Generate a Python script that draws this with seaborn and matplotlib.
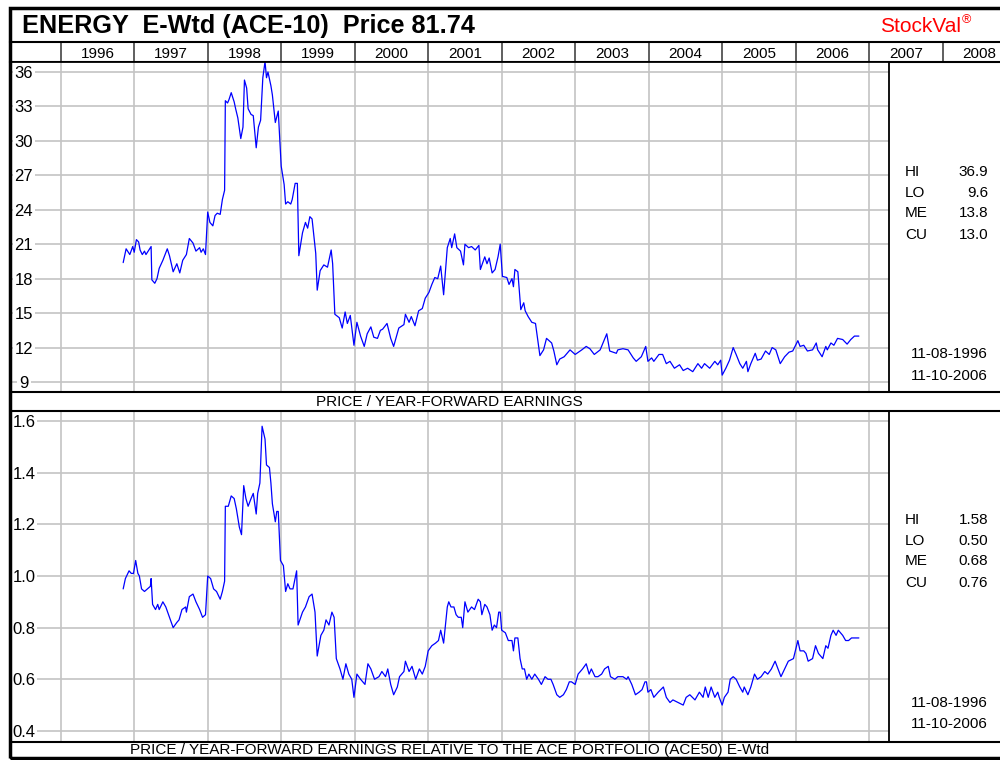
import matplotlib
matplotlib.use("Agg")
import matplotlib.pyplot as plt
import seaborn as sns
import pandas as pd
from matplotlib.patches import Rectangle
from matplotlib.lines import Line2D

# price / year-forward earnings
pe_year = [
    1996.85, 1996.89, 1996.94, 1996.98, 1997.00, 1997.03, 1997.06, 1997.08, 1997.11, 1997.14,
    1997.16, 1997.20, 1997.23, 1997.24, 1997.28, 1997.31, 1997.34, 1997.39, 1997.45, 1997.48,
    1997.53, 1997.58, 1997.62, 1997.66, 1997.71, 1997.75, 1997.80, 1997.84, 1997.89, 1997.91,
    1997.94, 1997.97, 1998.00, 1998.03, 1998.07, 1998.10, 1998.13, 1998.17, 1998.20, 1998.23,
    1998.24, 1998.27, 1998.29, 1998.32, 1998.36, 1998.38, 1998.41, 1998.45, 1998.48, 1998.50,
    1998.53, 1998.55, 1998.59, 1998.62, 1998.66, 1998.69, 1998.72, 1998.75, 1998.78, 1998.80,
    1998.82, 1998.86, 1998.88, 1998.92, 1998.96, 1999.00, 1999.04, 1999.06, 1999.09, 1999.13,
    1999.15, 1999.19, 1999.22, 1999.24, 1999.29, 1999.33, 1999.36, 1999.39, 1999.42, 1999.47,
    1999.49, 1999.53, 1999.58, 1999.63, 1999.68, 1999.70, 1999.73, 1999.79, 1999.83, 1999.87,
    1999.90, 1999.94, 1999.99, 2000.03, 2000.08, 2000.13, 2000.17, 2000.22, 2000.26, 2000.31,
    2000.35, 2000.38, 2000.44, 2000.49, 2000.53, 2000.60, 2000.67, 2000.69, 2000.74, 2000.77,
    2000.82, 2000.87, 2000.92, 2000.96, 2001.01, 2001.05, 2001.09, 2001.13, 2001.17, 2001.21,
    2001.26, 2001.30, 2001.32, 2001.36, 2001.39, 2001.44, 2001.48, 2001.50, 2001.55, 2001.59,
    2001.64, 2001.69, 2001.71, 2001.77, 2001.80, 2001.83, 2001.87, 2001.91, 2001.95, 2001.98,
    2002.01, 2002.07, 2002.10, 2002.14, 2002.16, 2002.18, 2002.22, 2002.26, 2002.30, 2002.32,
    2002.36, 2002.41, 2002.46, 2002.52, 2002.57, 2002.61, 2002.68, 2002.71, 2002.75, 2002.79,
    2002.85, 2002.93, 2003.00, 2003.09, 2003.15, 2003.20, 2003.26, 2003.34, 2003.43, 2003.47,
    2003.56, 2003.58, 2003.65, 2003.72, 2003.79, 2003.83, 2003.90, 2003.96, 2003.99, 2004.04,
    2004.07, 2004.14, 2004.19, 2004.24, 2004.29, 2004.35, 2004.42, 2004.47, 2004.53, 2004.60,
    2004.67, 2004.72, 2004.76, 2004.83, 2004.90, 2004.94, 2004.98, 2005.00, 2005.05, 2005.10,
    2005.15, 2005.19, 2005.24, 2005.28, 2005.33, 2005.35, 2005.39, 2005.45, 2005.48, 2005.53,
    2005.59, 2005.64, 2005.68, 2005.73, 2005.79, 2005.85, 2005.91, 2005.96, 2006.03, 2006.06,
    2006.11, 2006.16, 2006.23, 2006.28, 2006.30, 2006.36, 2006.41, 2006.43, 2006.48, 2006.52,
    2006.57, 2006.64, 2006.70, 2006.75, 2006.80, 2006.86,
]
pe_value = [
    19.4, 20.6, 20.1, 20.8, 20.3, 21.4, 21.2, 20.5, 20.1, 20.4,
    20.1, 20.5, 20.8, 17.9, 17.6, 18.0, 18.9, 19.6, 20.6, 20.0,
    18.6, 19.3, 18.5, 19.6, 20.1, 21.5, 21.1, 20.4, 20.7, 20.3,
    20.6, 20.1, 23.8, 22.9, 22.6, 23.5, 23.7, 23.6, 24.9, 25.7,
    33.5, 33.3, 33.6, 34.2, 33.4, 32.8, 32.0, 30.2, 31.2, 35.3,
    34.6, 32.8, 32.3, 32.2, 29.4, 31.2, 31.8, 35.5, 36.9, 35.5,
    36.0, 34.8, 34.0, 31.6, 32.6, 27.8, 26.2, 24.5, 24.7, 24.5,
    24.9, 26.3, 26.3, 20.0, 22.0, 22.9, 22.4, 23.4, 23.2, 20.2,
    17.0, 18.7, 19.2, 19.0, 20.5, 19.3, 14.9, 14.6, 13.7, 15.1,
    14.1, 14.8, 12.2, 14.2, 13.0, 12.1, 13.2, 13.8, 12.9, 12.8,
    13.5, 13.6, 14.1, 12.8, 12.1, 13.7, 14.0, 14.9, 14.2, 14.7,
    13.9, 15.2, 15.4, 16.3, 16.8, 17.5, 18.1, 18.0, 19.1, 16.6,
    20.7, 21.5, 20.7, 21.9, 20.7, 20.4, 19.2, 21.0, 20.7, 20.8,
    20.5, 20.9, 18.8, 19.9, 19.3, 19.8, 18.5, 18.8, 19.9, 21.0,
    18.2, 18.1, 17.5, 18.0, 17.3, 18.8, 18.6, 15.3, 15.9, 15.2,
    14.7, 14.2, 14.1, 11.3, 11.8, 12.8, 12.4, 11.7, 10.5, 11.0,
    11.2, 11.8, 11.4, 11.8, 12.1, 11.9, 11.4, 11.8, 13.2, 11.7,
    11.5, 11.8, 11.9, 11.8, 11.1, 10.8, 11.2, 12.1, 10.8, 11.1,
    10.8, 11.4, 11.4, 10.6, 10.8, 10.2, 10.5, 10.0, 10.2, 9.9,
    10.6, 10.2, 10.6, 10.2, 10.8, 10.5, 10.9, 9.6, 10.2, 10.9,
    12.0, 11.4, 10.6, 10.2, 10.8, 9.9, 10.6, 11.5, 10.9, 11.0,
    11.7, 11.4, 12.0, 11.8, 10.6, 11.2, 11.6, 11.7, 12.6, 12.1,
    12.2, 11.7, 11.8, 12.4, 11.8, 11.2, 12.1, 11.8, 12.4, 12.2,
    12.8, 12.7, 12.3, 12.7, 13.0, 13.0,
]

# relative to the ACE portfolio
rel_year = [
    1996.85, 1996.88, 1996.93, 1996.96, 1996.99, 1997.02, 1997.05, 1997.07, 1997.10, 1997.14,
    1997.18, 1997.22, 1997.23, 1997.25, 1997.29, 1997.32, 1997.34, 1997.39, 1997.43, 1997.48,
    1997.53, 1997.58, 1997.61, 1997.65, 1997.70, 1997.71, 1997.75, 1997.80, 1997.84, 1997.89,
    1997.93, 1997.97, 1998.00, 1998.04, 1998.08, 1998.12, 1998.17, 1998.20, 1998.23, 1998.24,
    1998.28, 1998.32, 1998.36, 1998.39, 1998.43, 1998.46, 1998.49, 1998.52, 1998.55, 1998.59,
    1998.62, 1998.66, 1998.68, 1998.71, 1998.74, 1998.78, 1998.80, 1998.84, 1998.86, 1998.88,
    1998.92, 1998.94, 1998.96, 1998.99, 1999.03, 1999.06, 1999.09, 1999.12, 1999.16, 1999.21,
    1999.23, 1999.29, 1999.33, 1999.38, 1999.42, 1999.46, 1999.49, 1999.54, 1999.58, 1999.61,
    1999.65, 1999.69, 1999.72, 1999.75, 1999.80, 1999.84, 1999.88, 1999.92, 1999.96, 1999.99,
    2000.03, 2000.08, 2000.14, 2000.18, 2000.22, 2000.27, 2000.33, 2000.37, 2000.42, 2000.45,
    2000.49, 2000.53, 2000.58, 2000.61, 2000.67, 2000.69, 2000.74, 2000.78, 2000.83, 2000.88,
    2000.92, 2000.96, 2001.00, 2001.05, 2001.10, 2001.14, 2001.17, 2001.21, 2001.26, 2001.28,
    2001.31, 2001.35, 2001.38, 2001.41, 2001.45, 2001.47, 2001.50, 2001.54, 2001.59, 2001.63,
    2001.68, 2001.71, 2001.73, 2001.77, 2001.80, 2001.84, 2001.87, 2001.90, 2001.93, 2001.96,
    2001.98, 2002.00, 2002.05, 2002.09, 2002.14, 2002.16, 2002.18, 2002.22, 2002.25, 2002.28,
    2002.31, 2002.34, 2002.37, 2002.41, 2002.45, 2002.50, 2002.54, 2002.59, 2002.63, 2002.67,
    2002.70, 2002.75, 2002.79, 2002.84, 2002.88, 2002.92, 2002.95, 2003.00, 2003.04, 2003.10,
    2003.15, 2003.19, 2003.22, 2003.27, 2003.31, 2003.36, 2003.40, 2003.45, 2003.48, 2003.54,
    2003.58, 2003.65, 2003.70, 2003.72, 2003.77, 2003.82, 2003.87, 2003.91, 2003.95, 2003.97,
    2003.99, 2004.03, 2004.07, 2004.13, 2004.20, 2004.24, 2004.29, 2004.33, 2004.40, 2004.47,
    2004.51, 2004.56, 2004.63, 2004.69, 2004.74, 2004.77, 2004.81, 2004.85, 2004.90, 2004.94,
    2004.96, 2005.00, 2005.03, 2005.08, 2005.11, 2005.15, 2005.19, 2005.24, 2005.28, 2005.30,
    2005.35, 2005.39, 2005.44, 2005.48, 2005.53, 2005.58, 2005.62, 2005.67, 2005.72, 2005.76,
    2005.80, 2005.85, 2005.90, 2005.97, 2006.03, 2006.06, 2006.11, 2006.14, 2006.17, 2006.23,
    2006.27, 2006.31, 2006.37, 2006.41, 2006.44, 2006.48, 2006.51, 2006.55, 2006.58, 2006.61,
    2006.64, 2006.68, 2006.72, 2006.76, 2006.86,
]
rel_value = [
    0.95, 0.99, 1.02, 1.01, 1.01, 1.06, 1.01, 1.00, 0.95, 0.94,
    0.95, 0.96, 0.99, 0.89, 0.87, 0.89, 0.87, 0.90, 0.88, 0.84,
    0.80, 0.82, 0.83, 0.87, 0.88, 0.86, 0.92, 0.93, 0.90, 0.87,
    0.84, 0.85, 1.00, 0.99, 0.95, 0.94, 0.91, 0.94, 0.98, 1.27,
    1.27, 1.31, 1.30, 1.26, 1.19, 1.16, 1.35, 1.30, 1.27, 1.30,
    1.32, 1.24, 1.32, 1.36, 1.58, 1.53, 1.43, 1.42, 1.36, 1.28,
    1.21, 1.25, 1.25, 1.06, 1.04, 0.94, 0.97, 0.95, 0.95, 1.02,
    0.81, 0.86, 0.88, 0.92, 0.93, 0.86, 0.69, 0.77, 0.79, 0.83,
    0.81, 0.86, 0.84, 0.68, 0.64, 0.60, 0.66, 0.62, 0.60, 0.53,
    0.62, 0.60, 0.58, 0.66, 0.64, 0.60, 0.61, 0.63, 0.61, 0.64,
    0.58, 0.54, 0.57, 0.61, 0.63, 0.67, 0.63, 0.65, 0.60, 0.64,
    0.62, 0.65, 0.71, 0.73, 0.74, 0.75, 0.79, 0.74, 0.88, 0.90,
    0.88, 0.88, 0.85, 0.84, 0.84, 0.80, 0.90, 0.86, 0.88, 0.87,
    0.91, 0.90, 0.85, 0.89, 0.88, 0.85, 0.79, 0.81, 0.80, 0.86,
    0.86, 0.79, 0.78, 0.75, 0.75, 0.71, 0.76, 0.76, 0.68, 0.64,
    0.64, 0.60, 0.62, 0.60, 0.62, 0.60, 0.58, 0.61, 0.60, 0.60,
    0.58, 0.54, 0.53, 0.54, 0.56, 0.59, 0.59, 0.58, 0.62, 0.64,
    0.66, 0.62, 0.64, 0.61, 0.61, 0.62, 0.64, 0.65, 0.61, 0.60,
    0.61, 0.61, 0.60, 0.61, 0.58, 0.54, 0.55, 0.56, 0.59, 0.59,
    0.55, 0.56, 0.53, 0.55, 0.57, 0.53, 0.51, 0.52, 0.51, 0.50,
    0.53, 0.54, 0.52, 0.55, 0.53, 0.57, 0.53, 0.57, 0.53, 0.55,
    0.53, 0.50, 0.53, 0.55, 0.60, 0.61, 0.60, 0.57, 0.55, 0.57,
    0.54, 0.57, 0.62, 0.60, 0.61, 0.63, 0.62, 0.64, 0.67, 0.64,
    0.61, 0.64, 0.67, 0.68, 0.75, 0.71, 0.71, 0.70, 0.67, 0.68,
    0.73, 0.70, 0.68, 0.73, 0.72, 0.77, 0.79, 0.77, 0.79, 0.78,
    0.77, 0.75, 0.75, 0.76, 0.76,
]

header_years = list(range(1996, 2009))
pe_ticks = [9, 12, 15, 18, 21, 24, 27, 30, 33, 36]
rel_ticks = [0.4, 0.6, 0.8, 1.0, 1.2, 1.4, 1.6]
stat_names = ["HI", "LO", "ME", "CU"]
pe_stats = ["36.9", "9.6", "13.8", "13.0"]
rel_stats = ["1.58", "0.50", "0.68", "0.76"]
date_range = ["11-08-1996", "11-10-2006"]

title = "ENERGY  E-Wtd (ACE-10)  Price 81.74"
pe_caption = "PRICE / YEAR-FORWARD EARNINGS"
rel_caption = "PRICE / YEAR-FORWARD EARNINGS RELATIVE TO THE ACE PORTFOLIO (ACE50) E-Wtd"

sns.set_style("white")
plt.rcParams["font.family"] = ["Liberation Sans", "DejaVu Sans"]
plt.rcParams["text.color"] = "black"
plt.rcParams["xtick.color"] = "black"
plt.rcParams["ytick.color"] = "black"

W, H = 1000, 760
X_LEFT, X_PLOT_RIGHT, X_HEAD_RIGHT = 1995.31, 2007.27, 2008.78
GRID = "#c4c4c4"

fig = plt.figure(figsize=(10, 7.6), dpi=100)


def box(x0, y0, x1, y1):
    return [x0 / W, 1 - y1 / H, (x1 - x0) / W, (y1 - y0) / H]


def hline(y, x0=10, x1=1000, lw=1.5, color="black"):
    fig.add_artist(Line2D([x0 / W, x1 / W], [1 - y / H, 1 - y / H],
                          transform=fig.transFigure, color=color, lw=lw))


def panel(rect, years, values, ticks, fmt, ylim, stats, stat_rows, date_rows):
    ax = fig.add_axes(box(*rect))
    df = pd.DataFrame({"year": years, "value": values})
    sns.lineplot(data=df, x="year", y="value", ax=ax, color="#0000ff", lw=0.9)
    ax.set_xlim(X_LEFT, X_PLOT_RIGHT)
    ax.set_ylim(*ylim)
    ax.set_xticks(header_years[:-1])
    ax.set_yticks(ticks)
    ax.set_yticklabels([fmt.format(t) for t in ticks])
    ax.set_xlabel("")
    ax.set_ylabel("")
    ax.grid(True, color=GRID, lw=1.2)
    ax.set_axisbelow(True)
    ax.tick_params(axis="x", length=0, labelbottom=False)
    ax.tick_params(axis="y", length=0, pad=-10, labelsize=12, labelcolor="black")
    for lab in ax.get_yticklabels():
        lab.set_horizontalalignment("center")
        lab.set_bbox(dict(fc="white", ec="none", pad=1.5))
    for s in ax.spines.values():
        s.set_color("black")
        s.set_linewidth(1.3)

    for name, val, y in zip(stat_names, stats, stat_rows):
        fig.text(905 / W, 1 - y / H, name, ha="left", va="center", fontsize=11)
        fig.text(988 / W, 1 - y / H, val, ha="right", va="center", fontsize=11)
    for d, y in zip(date_range, date_rows):
        fig.text(988 / W, 1 - y / H, d, ha="right", va="center", fontsize=11)
    return ax


# year header row
head = fig.add_axes(box(10, 42, 1000, 62))
head.set_xlim(X_LEFT, X_HEAD_RIGHT)
head.set_ylim(0, 1)
head.set_xticks([])
head.set_yticks([])
for yr in header_years:
    head.axvline(yr, color="#444444", lw=1.2)
    head.text(yr + 0.5, 0.42, str(yr), ha="center", va="center", fontsize=11)
for side in ["left", "right"]:
    head.spines[side].set_visible(False)
head.spines["top"].set_linewidth(1.5)
head.spines["top"].set_color("black")
head.spines["bottom"].set_linewidth(1.5)
head.spines["bottom"].set_color("black")

panel((10, 62, 889, 392), pe_year, pe_value, pe_ticks, "{:d}", (8.13, 36.87),
      pe_stats, [172, 193, 213, 235], [354, 376])
panel((10, 411, 889, 742), rel_year, rel_value, rel_ticks, "{:.1f}", (0.357, 1.639),
      rel_stats, [520, 541, 561, 583], [703, 724])

# caption rows
hline(392)
hline(411)
hline(742)
fig.text(449.5 / W, 1 - 402 / H, pe_caption, ha="center", va="center", fontsize=11)
fig.text(449.5 / W, 1 - 750 / H, rel_caption, ha="center", va="center", fontsize=11)

# title row
fig.text(22 / W, 1 - 26 / H, title, ha="left", va="center", fontsize=18.2, fontweight="bold")
fig.text(880 / W, 1 - 26 / H, "StockVal", ha="left", va="center", fontsize=15, color="#ff0000")
fig.text(962 / W, 1 - 20 / H, "®", ha="left", va="center", fontsize=9, color="#ff0000")

# outer frame
fig.add_artist(Rectangle((10 / W, 2 / H), 1.0, 750 / H, transform=fig.transFigure,
                         fill=False, ec="black", lw=2.5))

fig.savefig("out.png", dpi=100)
